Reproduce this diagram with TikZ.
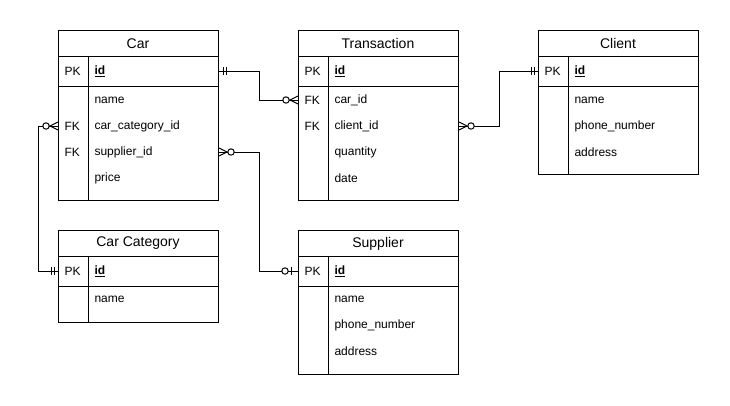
\documentclass[tikz,border=0pt]{standalone}
\usepackage{fontspec}
\setmainfont{Liberation Sans}

\tikzset{
  tbl/.style={draw, anchor=north west, minimum width=160pt, inner sep=0pt},
  ttl/.style={font=\fontsize{14}{16}\selectfont},
  fld/.style={anchor=west, inner sep=0pt, font=\fontsize{12}{14}\selectfont},
  pics/one/.style={code={\draw (4,-4) -- (4,4) (7,-4) -- (7,4);}},
  pics/zeroone/.style={code={\draw (7,-4) -- (7,4); \draw[fill=white] (13,0) circle (3.2pt);}},
  pics/zeromany/.style={code={\draw (0,-4) -- (8,0) -- (0,4); \draw[fill=white] (12,0) circle (3.2pt);}}
}

\begin{document}
\begin{tikzpicture}[x=1pt, y=-1pt, line width=1pt]
                \useasboundingbox[fill=white] (0,0) rectangle (730,405);

                % Car
                \node[tbl, minimum height=170pt] (car) at (58,30) {};
                \node[ttl] (car-t) at (138,43.5) {Car};
                \draw (58,56) -- (218,56);
                \draw (58,86) -- (218,86);
                \draw (88,56) -- (88,200);
                \node[fld] (car-pk) at (64,71) {PK};
                \node[fld] (car-id) at (94,71) {\underline{\textbf{id}}};
                \node[fld] (car-name) at (94,100) {name};
                \node[fld] (car-fk1) at (64,126) {FK};
                \node[fld] (car-ccid) at (94,126) {car\_category\_id};
                \node[fld] (car-fk2) at (64,152) {FK};
                \node[fld] (car-supid) at (94,152) {supplier\_id};
                \node[fld] (car-price) at (94,178) {price};

                % Transaction
                \node[tbl, minimum height=170pt] (tr) at (298,30) {};
                \node[ttl] (tr-t) at (378,43.5) {Transaction};
                \draw (298,56) -- (458,56);
                \draw (298,86) -- (458,86);
                \draw (328,56) -- (328,200);
                \node[fld] (tr-pk) at (304,71) {PK};
                \node[fld] (tr-id) at (334,71) {\underline{\textbf{id}}};
                \node[fld] (tr-fk1) at (304,100) {FK};
                \node[fld] (tr-carid) at (334,100) {car\_id};
                \node[fld] (tr-fk2) at (304,126) {FK};
                \node[fld] (tr-clid) at (334,126) {client\_id};
                \node[fld] (tr-qty) at (334,152) {quantity};
                \node[fld] (tr-date) at (334,178) {date};

                % Client
                \node[tbl, minimum height=144pt] (cl) at (538,30) {};
                \node[ttl] (cl-t) at (618,43.5) {Client};
                \draw (538,56) -- (698,56);
                \draw (538,86) -- (698,86);
                \draw (568,56) -- (568,174);
                \node[fld] (cl-pk) at (544,71) {PK};
                \node[fld] (cl-id) at (574,71) {\underline{\textbf{id}}};
                \node[fld] (cl-name) at (574,100) {name};
                \node[fld] (cl-phone) at (574,126) {phone\_number};
                \node[fld] (cl-addr) at (574,152) {address};

                % Car Category
                \node[tbl, minimum height=92pt] (cat) at (58,230) {};
                \node[ttl] (cat-t) at (138,243.5) {Car Category};
                \draw (58,256) -- (218,256);
                \draw (58,286) -- (218,286);
                \draw (88,256) -- (88,322);
                \node[fld] (cat-pk) at (64,271) {PK};
                \node[fld] (cat-id) at (94,271) {\underline{\textbf{id}}};
                \node[fld] (cat-name) at (94,299) {name};

                % Supplier
                \node[tbl, minimum height=144pt] (sup) at (298,230) {};
                \node[ttl] (sup-t) at (378,243.5) {Supplier};
                \draw (298,256) -- (458,256);
                \draw (298,286) -- (458,286);
                \draw (328,256) -- (328,374);
                \node[fld] (sup-pk) at (304,271) {PK};
                \node[fld] (sup-id) at (334,271) {\underline{\textbf{id}}};
                \node[fld] (sup-name) at (334,299) {name};
                \node[fld] (sup-phone) at (334,325) {phone\_number};
                \node[fld] (sup-addr) at (334,351) {address};

                % relations
                \draw (car.east |- car-id) -- ++(40,0) |- (tr.west |- tr-carid);
                \draw (tr.east |- tr-clid) -- ++(40,0) |- (cl.west |- cl-id);
                \draw (car.east |- car-supid) -- ++(40,0) |- (sup.west |- sup-id);
                \draw (car.west |- car-ccid) -- ++(-20,0) |- (cat.west |- cat-id);

                \pic at (car.east |- car-id) {one};
                \pic[rotate=180] at (tr.west |- tr-carid) {zeromany};
                \pic at (tr.east |- tr-clid) {zeromany};
                \pic[rotate=180] at (cl.west |- cl-id) {one};
                \pic at (car.east |- car-supid) {zeromany};
                \pic[rotate=180] at (sup.west |- sup-id) {zeroone};
                \pic[rotate=180] at (car.west |- car-ccid) {zeromany};
                \pic[rotate=180] at (cat.west |- cat-id) {one};
            \end{tikzpicture}
\end{document}
